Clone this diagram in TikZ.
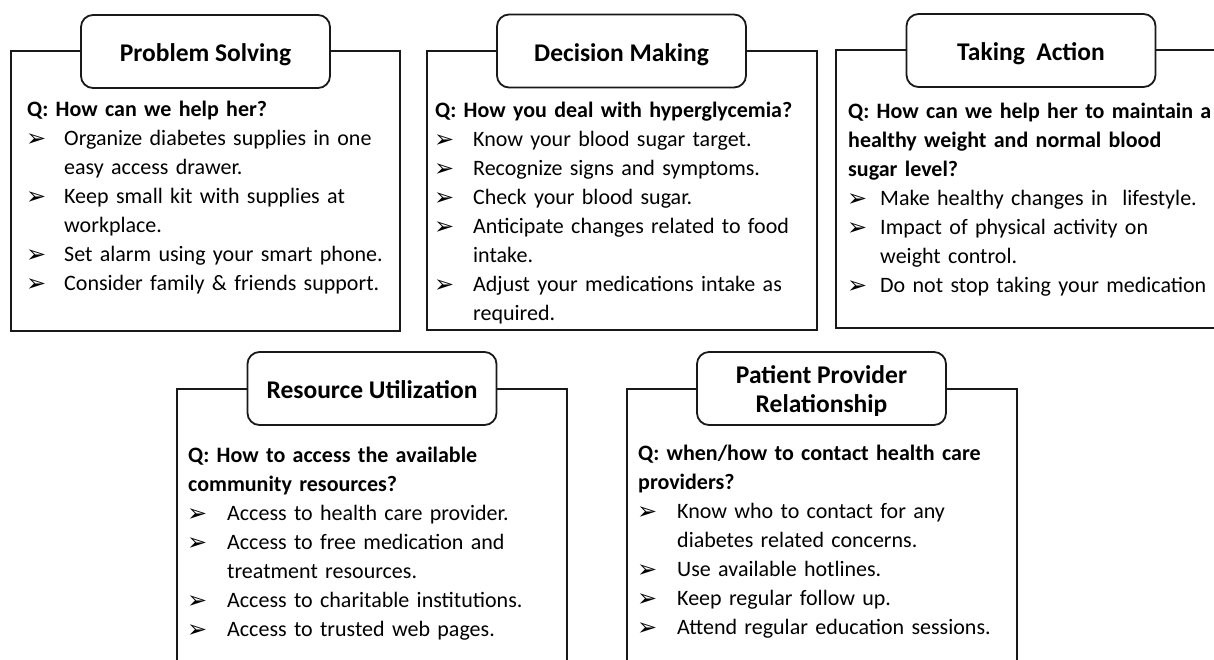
\documentclass[tikz,border=0pt]{standalone}
\usepackage{fontspec}
\setmainfont{Carlito}
\newfontfamily\bulfont{DejaVu Sans}

% bullet item with a hanging indent; optional argument is the indent
\newcommand\bitem[2][37pt]{\par\hangindent=#1\hangafter=1\noindent
  \makebox[#1][l]{\hspace{-1pt}\smash{\raisebox{-1pt}{\fontsize{24}{24}\bulfont ➢}}}#2\par}
\newcommand\qline[1]{\noindent\textbf{#1}\par}
\newcommand\flushragged{\rightskip=0pt plus 1fil\relax}

\begin{document}
\begin{tikzpicture}[x=1pt,y=-1pt,
  frame/.style={draw=black!90, line width=1.6pt},
  titlebox/.style={draw=black!90, line width=1.8pt, rounded corners=12pt, fill=white,
    minimum width=249pt, minimum height=73pt, inner sep=0pt},
  titletext/.style={anchor=base, inner sep=0pt,
    font=\fontsize{25.5}{30}\selectfont\bfseries},
  content/.style={anchor=north west, inner sep=0pt, text width=#1, align=left,
    font=\fontsize{22}{29}\selectfont, execute at begin node=\flushragged}]
\clip (0,0) rectangle (1214,659);
\fill[white] (0,0) rectangle (1214,659);

% outer frames
\draw[frame] (11,51) rectangle (400,331);
\draw[frame] (427,51) rectangle (817,330);
\draw[frame] (836,50) rectangle (1240,328);
\draw[frame] (177,389) rectangle (567,700);
\draw[frame] (627,389) rectangle (1017,700);

% title boxes
\node[titlebox] (t1) at (205.5,51.5) {};
\node[titlebox] (t2) at (621.5,51) {};
\node[titlebox] (t3) at (1031,50.5) {};
\node[titlebox] (t4) at (372,388.5) {};
\node[titlebox] (t5) at (821.5,388.5) {};

% title texts
\node[titletext] (t1a) at (205.5,61) {Problem Solving};
\node[titletext] (t2a) at (621.5,61) {Decision Making};
\node[titletext] (t3a) at (1031,60) {Taking\ \ Action};
\node[titletext] (t4a) at (372,398) {Resource Utilization};
\node[titletext] (t5a) at (821.5,383) {Patient Provider};
\node[titletext] (t5b) at (821.5,412) {Relationship};

% contents
\node[content=420pt] (c1) at (27,101) {%
  \qline{Q: How can we help her?}
  \bitem{Organize diabetes supplies in one\newline easy access drawer.}
  \bitem{Keep small kit with supplies at\newline workplace.}
  \bitem{Set alarm using your smart phone.}
  \bitem{Consider family \& friends support.}};

\node[content=420pt] (c2) at (435,102) {%
  \qline{Q: How you deal with hyperglycemia?}
  \bitem[38pt]{Know your blood sugar target.}
  \bitem[38pt]{Recognize signs and symptoms.}
  \bitem[38pt]{Check your blood sugar.}
  \bitem[38pt]{Anticipate changes related to food\newline intake.}
  \bitem[38pt]{Adjust your medications intake as\newline required.}};

\node[content=420pt] (c3) at (848,103) {%
  \qline{Q: How can we help her to maintain a\newline healthy weight and normal blood\newline sugar level?}
  \bitem[32pt]{Make healthy changes in\ \ lifestyle.}
  \bitem[32pt]{Impact of physical activity on\newline weight control.}
  \bitem[32pt]{Do not stop taking your medication}};

\node[content=420pt] (c4) at (188,447) {%
  \qline{Q: How to access the available\newline community resources?}
  \bitem[39pt]{Access to health care provider.}
  \bitem[39pt]{Access to free medication and\newline treatment resources.}
  \bitem[39pt]{Access to charitable institutions.}
  \bitem[39pt]{Access to trusted web pages.}};

\node[content=420pt] (c5) at (638,445) {%
  \qline{Q: when/how to contact health care\newline providers?}
  \bitem[39pt]{Know who to contact for any\newline diabetes related concerns.}
  \bitem[39pt]{Use available hotlines.}
  \bitem[39pt]{Keep regular follow up.}
  \bitem[39pt]{Attend regular education sessions.}};
\end{tikzpicture}
\end{document}
